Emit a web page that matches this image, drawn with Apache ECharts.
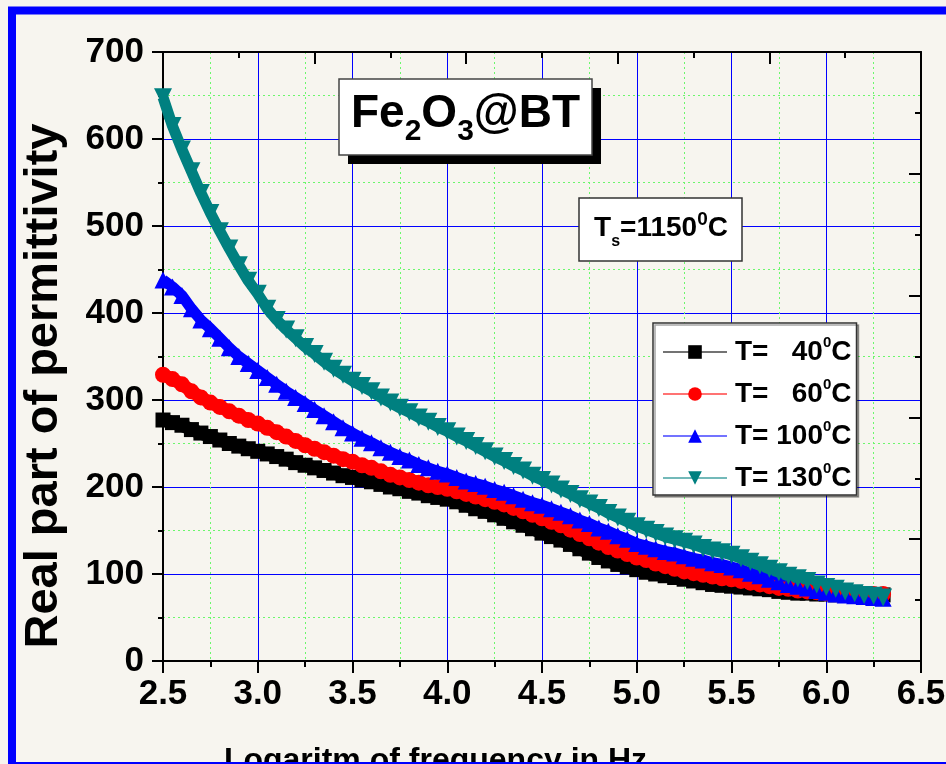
<!DOCTYPE html>
<html>
<head>
<meta charset="utf-8">
<script src="https://cdn.jsdelivr.net/npm/echarts@6/dist/echarts.min.js"></script>
<style>
  html, body { margin: 0; padding: 0; background: #f7f5ef; }
  #chart { width: 946px; height: 764px; }
</style>
</head>
<body>
<div id="chart"></div>
<script>
// log10 of frequency (Hz)
var logF = [2.5, 2.55, 2.6, 2.65, 2.7, 2.75, 2.8, 2.85, 2.9, 2.95,
  3.0, 3.05, 3.1, 3.15, 3.2, 3.25, 3.3, 3.35, 3.4, 3.45,
  3.5, 3.55, 3.6, 3.65, 3.7, 3.75, 3.8, 3.85, 3.9, 3.95,
  4.0, 4.05, 4.1, 4.15, 4.2, 4.25, 4.3, 4.35, 4.4, 4.45,
  4.5, 4.55, 4.6, 4.65, 4.7, 4.75, 4.8, 4.85, 4.9, 4.95,
  5.0, 5.05, 5.1, 5.15, 5.2, 5.25, 5.3, 5.35, 5.4, 5.45,
  5.5, 5.55, 5.6, 5.65, 5.7, 5.75, 5.8, 5.85, 5.9, 5.95,
  6.0, 6.05, 6.1, 6.15, 6.2, 6.25, 6.3];

// real part of permittivity at each temperature
var eps40 = [277, 274, 271, 266, 262, 258, 254, 250, 247, 244,
  241, 238, 235, 232, 228, 225, 222, 219, 216, 213,
  211, 208, 206, 203, 200, 198, 195, 193, 190, 188,
  186, 183, 179, 175, 172, 168, 164, 160, 156, 152,
  147, 143, 139, 134, 129, 124, 119, 115, 111, 108,
  105, 102, 100, 98, 96, 94, 92, 90, 88, 87,
  86, 85, 84, 83, 82, 80, 79, 78, 78, 77,
  77, 76, 76, 76, 76, 76, 76];
var eps60 = [329, 324, 318, 310, 303, 297, 292, 287, 282, 277,
  273, 268, 263, 258, 253, 248, 244, 240, 236, 232,
  229, 225, 222, 218, 214, 211, 208, 205, 202, 200,
  198, 195, 192, 189, 186, 183, 180, 176, 172, 168,
  164, 160, 156, 151, 146, 141, 136, 131, 127, 123,
  119, 116, 112, 109, 106, 103, 101, 99, 97, 95,
  94, 92, 90, 88, 86, 84, 83, 81, 80, 79,
  78, 77, 77, 77, 77, 77, 77];
var eps100 = [438, 430, 420, 405, 392, 382, 371, 360, 350, 342,
  334, 326, 318, 310, 303, 296, 289, 282, 275, 268,
  262, 256, 251, 245, 240, 235, 231, 226, 222, 218,
  215, 211, 207, 204, 201, 197, 194, 190, 186, 182,
  179, 175, 171, 167, 162, 158, 153, 149, 144, 140,
  135, 132, 129, 126, 124, 121, 118, 116, 113, 111,
  108, 105, 101, 98, 94, 91, 88, 86, 84, 81,
  79, 77, 76, 75, 74, 73, 72];
var eps130 = [648, 615, 588, 563, 538, 515, 494, 474, 455, 437,
  422, 405, 392, 381, 371, 361, 353, 344, 336, 329,
  322, 316, 310, 303, 297, 291, 286, 280, 275, 269,
  264, 258, 253, 247, 241, 235, 230, 224, 219, 213,
  208, 203, 197, 192, 186, 181, 176, 170, 165, 160,
  155, 151, 147, 143, 140, 137, 134, 130, 127, 125,
  122, 118, 114, 110, 106, 102, 98, 95, 92, 88,
  85, 83, 80, 78, 76, 75, 73];

var seriesNames = ['T=   40', 'T=   60', 'T= 100', 'T= 130'];
var seriesColors = ['#000000', '#ff0000', '#0000ff', '#008080'];
var xTicks = ['2.5', '3.0', '3.5', '4.0', '4.5', '5.0', '5.5', '6.0', '6.5'];
var yTicks = [0, 100, 200, 300, 400, 500, 600, 700];

var FONT = '"Liberation Sans", Arial, sans-serif';

function pairs(ys) {
  return logF.map(function (x, i) { return [x, ys[i]]; });
}

var chart = echarts.init(document.getElementById('chart'), null, { renderer: 'canvas' });

var blueGrid = { show: true, lineStyle: { color: '#0000ff', width: 1 } };
var greenGrid = { show: true, lineStyle: { color: '#6cf76c', width: 1, type: [2, 3] } };
var blackLine = { color: '#000', width: 2 };

function txt(size, extra) {
  var s = { fontFamily: FONT, fontWeight: 'bold', fontSize: size, fill: '#000', color: '#000' };
  for (var k in extra) s[k] = extra[k];
  return s;
}

var option = {
  animation: false,
  backgroundColor: '#f7f5ef',
  grid: { left: 163, top: 52, right: 25, bottom: 103, outerBoundsMode: 'none' },
  xAxis: [
    {
      type: 'value', position: 'bottom', min: 2.5, max: 6.5, interval: 0.5,
      axisLine: { onZero: false, lineStyle: blackLine },
      axisTick: { inside: false, length: 12, lineStyle: blackLine },
      minorTick: { show: true, splitNumber: 2, length: 6, lineStyle: blackLine },
      splitLine: blueGrid,
      minorSplitLine: greenGrid,
      axisLabel: {
        margin: 16, color: '#000', fontFamily: FONT, fontWeight: 'bold', fontSize: 35,
        formatter: function (v) { return xTicks[Math.round((v - 2.5) / 0.5)]; }
      }
    },
    {
      type: 'value', position: 'top', min: 0, max: 10, interval: 2,
      axisLine: { onZero: false, lineStyle: blackLine },
      axisTick: { inside: true, length: 12, lineStyle: blackLine },
      minorTick: { show: true, splitNumber: 2, length: 6, lineStyle: blackLine },
      splitLine: { show: false },
      axisLabel: { show: false }
    }
  ],
  yAxis: [
    {
      type: 'value', position: 'left', min: 0, max: 700, interval: 100,
      axisLine: { onZero: false, lineStyle: blackLine },
      axisTick: { inside: false, length: 11, lineStyle: blackLine },
      minorTick: { show: true, splitNumber: 2, length: 5, lineStyle: blackLine },
      splitLine: blueGrid,
      minorSplitLine: greenGrid,
      axisLabel: {
        margin: 19, color: '#000', fontFamily: FONT, fontWeight: 'bold', fontSize: 35,
        formatter: function (v) { return String(yTicks[Math.round(v / 100)]); }
      }
    },
    {
      type: 'value', position: 'right', min: 0, max: 700, interval: 140,
      axisLine: { onZero: false, lineStyle: blackLine },
      axisTick: { inside: true, length: 12, lineStyle: blackLine },
      minorTick: { show: true, splitNumber: 2, length: 6, lineStyle: blackLine },
      splitLine: { show: false },
      axisLabel: { show: false }
    }
  ],
  legend: {
    orient: 'vertical',
    left: 653, top: 323,
    padding: [12, 5, 0, 9],
    itemGap: 8,
    itemWidth: 64,
    itemHeight: 17,
    backgroundColor: '#ffffff',
    borderColor: '#333',
    borderWidth: 1.5,
    shadowColor: 'rgba(0,0,0,0.35)',
    shadowOffsetX: 2,
    shadowOffsetY: 2,
    lineStyle: { width: 2, opacity: 0.55 },
    data: seriesNames,
    formatter: function (name) { return '{m|' + name + '}{sup|0}{m|C}'; },
    textStyle: txt(28, {
      lineHeight: 34,
      padding: [0, 0, 0, 3],
      rich: {
        m: txt(28, { verticalAlign: 'top', padding: [3, 0, 0, 0] }),
        sup: txt(15, { verticalAlign: 'top' })
      }
    })
  },
  graphic: [
    // title box with hard shadow
    { type: 'rect', z: 50, shape: { x: 348, y: 88, width: 253, height: 76 }, style: { fill: '#000' } },
    { type: 'rect', z: 51, shape: { x: 339, y: 79, width: 253, height: 76 }, style: { fill: '#fff', stroke: '#444', lineWidth: 1.5 } },
    {
      type: 'text', z: 52, x: 465.5, y: 119,
      style: txt(46, {
        text: '{m|Fe}{sub|2}{m|O}{sub|3}{m|@BT}', align: 'center', verticalAlign: 'middle', lineHeight: 55,
        rich: {
          m: txt(46, { verticalAlign: 'top' }),
          sub: txt(30, { verticalAlign: 'bottom' })
        }
      })
    },
    // sintering temperature box
    { type: 'rect', z: 51, shape: { x: 579, y: 198, width: 163, height: 63 }, style: { fill: '#fff', stroke: '#333', lineWidth: 1.5 } },
    {
      type: 'text', z: 52, x: 661, y: 230,
      style: txt(28, {
        text: '{m|T}{sub|s}{m|=1150}{sup|0}{m|C}', align: 'center', verticalAlign: 'middle', lineHeight: 40,
        rich: {
          m: txt(28, { verticalAlign: 'top', padding: [4, 0, 0, 0] }),
          sub: txt(16, { verticalAlign: 'bottom' }),
          sup: txt(19, { verticalAlign: 'top' })
        }
      })
    },
    // axis titles
    {
      type: 'text', z: 40, x: 44, y: 386, rotation: Math.PI / 2,
      style: txt(47, { text: 'Real part of permittivity', align: 'center', verticalAlign: 'middle' })
    },
    {
      type: 'text', z: 40, x: 435.5, y: 745,
      style: txt(32, { text: 'Logaritm of frequency in Hz', align: 'center', verticalAlign: 'top' })
    },
    // blue frame
    { type: 'rect', z: 100, shape: { x: 12, y: 10.5, width: 1000, height: 755.5 }, style: { fill: 'none', stroke: '#0000ff', lineWidth: 8 } }
  ],
  series: [
    { name: seriesNames[0], type: 'line', data: pairs(eps40), symbol: 'rect', symbolSize: 15,
      itemStyle: { color: seriesColors[0] }, lineStyle: { color: seriesColors[0], width: 13 } },
    { name: seriesNames[1], type: 'line', data: pairs(eps60), symbol: 'circle', symbolSize: 16,
      itemStyle: { color: seriesColors[1] }, lineStyle: { color: seriesColors[1], width: 13 } },
    { name: seriesNames[2], type: 'line', data: pairs(eps100), symbol: 'triangle', symbolSize: 17,
      itemStyle: { color: seriesColors[2] }, lineStyle: { color: seriesColors[2], width: 11 } },
    { name: seriesNames[3], type: 'line', data: pairs(eps130), symbol: 'triangle', symbolRotate: 180, symbolSize: 18,
      itemStyle: { color: seriesColors[3] }, lineStyle: { color: seriesColors[3], width: 11 } }
  ]
};

chart.setOption(option);
</script>
</body>
</html>
